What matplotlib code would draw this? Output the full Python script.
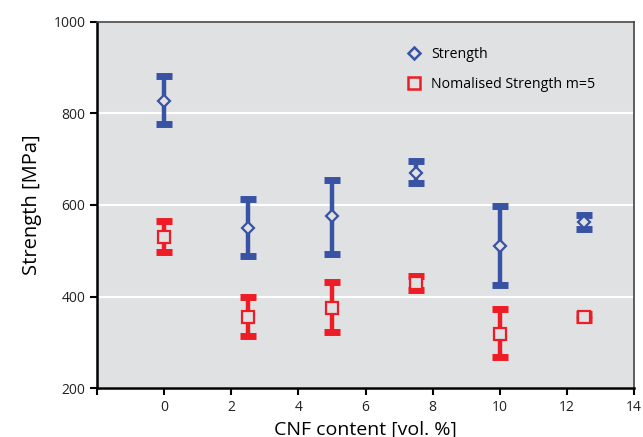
import matplotlib.pyplot as plt
from matplotlib.lines import Line2D

# CNF content [vol. %]
cnf = [0, 2.5, 5, 7.5, 10, 12.5]

# Strength [MPa] with asymmetric bars (upper / lower ends)
strength = [828, 550, 575, 670, 510, 563]
strength_hi = [882, 612, 655, 695, 597, 578]
strength_lo = [776, 488, 492, 648, 425, 548]

# Normalised strength m=5
norm = [530, 355, 375, 430, 318, 355]
norm_hi = [565, 398, 432, 445, 372, 362]
norm_lo = [497, 313, 322, 415, 267, 348]

BLUE = "#3953a4"
RED = "#ee1c25"

plt.rcParams["font.family"] = ["Open Sans", "DejaVu Sans"]

fig = plt.figure(figsize=(6.43, 4.37), dpi=100)
ax = fig.add_axes([0.151, 0.112, 0.835, 0.838])
ax.set_facecolor("#e0e1e3")


def draw(vals, hi, lo, color, marker, ms):
    err = [[v - l for v, l in zip(vals, lo)], [h - v for v, h in zip(vals, hi)]]
    ax.errorbar(cnf, vals, yerr=err, fmt="none", ecolor=color,
                elinewidth=3.2, capsize=6, capthick=5, zorder=3)
    ax.plot(cnf, vals, linestyle="none", marker=marker, ms=ms,
            mfc="#e0e1e3", mec=color, mew=1.6, zorder=4)


draw(strength, strength_hi, strength_lo, BLUE, "D", 6)
draw(norm, norm_hi, norm_lo, RED, "s", 8)

ax.set_xlim(-2, 14)
ax.set_ylim(200, 1000)
ax.set_xticks([-2, 0, 2, 4, 6, 8, 10, 12, 14])
ax.set_xticklabels(["", "0", "2", "4", "6", "8", "10", "12", "14"])
ax.set_yticks([200, 400, 600, 800, 1000])
ax.grid(True, axis="y", color="white", linewidth=1.5)
ax.set_axisbelow(True)

for s in ["left", "bottom"]:
    ax.spines[s].set_linewidth(1.8)
for s in ["top", "right"]:
    ax.spines[s].set_color("#444444")
    ax.spines[s].set_linewidth(1.2)
ax.tick_params(axis="both", direction="out", length=5, width=1.5,
               labelsize=10, colors="black", labelcolor="#222222")

ax.set_xlabel("CNF content [vol. %]", fontsize=14, labelpad=4)
ax.set_ylabel("Strength [MPa]", fontsize=14.5, labelpad=8)

handles = [
    Line2D([], [], linestyle="none", marker="D", ms=6, mfc="none", mec=BLUE, mew=1.8),
    Line2D([], [], linestyle="none", marker="s", ms=8, mfc="none", mec=RED, mew=1.8),
]
ax.legend(handles, ["Strength", "Nomalised Strength m=5"], loc="upper left",
          bbox_to_anchor=(0.54, 0.965), frameon=False, fontsize=10.2,
          handletextpad=0.2, labelspacing=1.0)

fig.savefig("out.png", dpi=100)
